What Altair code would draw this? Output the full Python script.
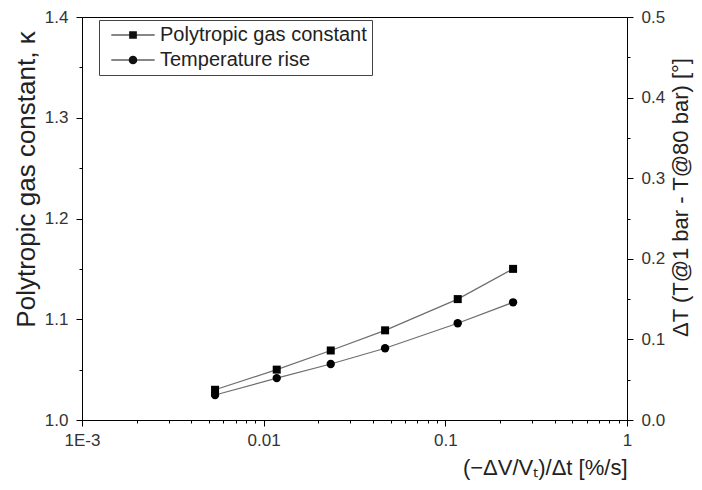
import altair as alt
import pandas as pd

# ---- data ----
rate = [0.0054, 0.0118, 0.0234, 0.0466, 0.117, 0.236]          # (-dV/Vt)/dt [%/s]
kappa = [1.030, 1.050, 1.069, 1.089, 1.120, 1.150]             # polytropic gas constant
delta_t = [0.031, 0.052, 0.0695, 0.089, 0.120, 0.146]          # temperature rise
series_names = ["Polytropic gas constant", "Temperature rise"]

x_tick_values = [m * 10.0 ** e for e in (-3, -2, -1) for m in range(1, 10)] + [1.0]
left_tick_values = [1.0, 1.05, 1.1, 1.15, 1.2, 1.25, 1.3, 1.35, 1.4]
right_tick_values = [0.0, 0.05, 0.1, 0.15, 0.2, 0.25, 0.3, 0.35, 0.4, 0.45, 0.5]

df = pd.DataFrame({"rate": rate, "kappa": kappa, "dT": delta_t})
legend_df = pd.DataFrame({"series": series_names,
                          "rate": [rate[0]] * 2,
                          "kappa": [kappa[0]] * 2})

FONT = "Liberation Sans"
LINE = "#6e6e6e"

x_major = "abs(log(datum.value)/LN10 - round(log(datum.value)/LN10)) < 0.001"
x_enc = alt.X(
    "rate:Q",
    scale=alt.Scale(type="log", domain=[0.001, 1], nice=False),
    axis=alt.Axis(
        values=x_tick_values,
        labelExpr=f"({x_major}) ? (datum.value < 0.005 ? '1E-3' : format(datum.value, '~g')) : ''",
        tickSize={"condition": {"test": x_major, "value": 6}, "value": 3},
        title="(\u2212\u0394V/V\u209c)/\u0394t [%/s]",
        titleX=545, titleY=54, titleAlign="right", titleBaseline="alphabetic",
        titleFontSize=22, titleFontWeight="normal",
        labelFontSize=17, labelPadding=6, labelFlush=False,
        grid=False,
    ),
)

y_major_l = "abs(datum.value*10 - round(datum.value*10)) < 0.001"
y_left = alt.Y(
    "kappa:Q",
    scale=alt.Scale(domain=[1.0, 1.4], nice=False, zero=False),
    axis=alt.Axis(
        values=left_tick_values,
        labelExpr=f"({y_major_l}) ? format(datum.value, '.1f') : ''",
        tickSize={"condition": {"test": y_major_l, "value": 6}, "value": 3},
        title="Polytropic gas constant, \u03ba",
        titleAngle=270, titleX=-69, titleY=162, titleAlign="center", titleBaseline="top",
        titleFontSize=26, titleFontWeight="normal",
        labelFontSize=17, labelPadding=8, labelFlush=False,
        grid=False,
    ),
)

y_right = alt.Y(
    "dT:Q",
    scale=alt.Scale(domain=[0.0, 0.5], nice=False, zero=False),
    axis=alt.Axis(
        orient="right",
        values=right_tick_values,
        labelExpr=f"({y_major_l}) ? format(datum.value, '.1f') : ''",
        tickSize={"condition": {"test": y_major_l, "value": 6}, "value": 3},
        title="\u0394T (T@1 bar - T@80 bar) [\u00b0]",
        titleAngle=270, titleX=43, titleY=180, titleAlign="center", titleBaseline="top",
        titleFontSize=22, titleFontWeight="normal",
        labelFontSize=17, labelPadding=8, labelFlush=False,
        grid=False,
    ),
)

# legend glyphs: a thin bar (the line) through the marker, all filled
sq_path = "M-3.1,-0.075H3.1V0.075H-3.1Z M-0.55,-0.55H0.55V0.55H-0.55Z"
ci_path = ("M-3.1,-0.075H3.1V0.075H-3.1Z "
           "M0.62,0A0.62,0.62,0,1,1,-0.62,0A0.62,0.62,0,1,1,0.62,0Z")

base = alt.Chart(df)
line_k = base.mark_line(color=LINE, strokeWidth=1.2).encode(x=x_enc, y=y_left)
pts_k = base.mark_point(shape="square", filled=True, color="black", size=64, opacity=1).encode(x=x_enc, y=y_left)
legend_carrier = alt.Chart(legend_df).mark_point(
    opacity=0, filled=True, color="#111"
).encode(
    x=x_enc, y=y_left,
    shape=alt.Shape(
        "series:N",
        scale=alt.Scale(domain=series_names, range=[sq_path, ci_path]),
        legend=alt.Legend(
            title=None, orient="none", legendX=17, legendY=3,
            strokeColor="#444", fillColor="white", padding=5,
            symbolSize=196, symbolFillColor="#111", symbolOpacity=1, symbolOffset=19,
            labelOffset=17, labelFontSize=20, labelFont=FONT, labelColor="#222",
            labelLimit=400, rowPadding=5,
        ),
    ),
)
left = alt.layer(line_k, pts_k, legend_carrier)

line_t = base.mark_line(color=LINE, strokeWidth=1.2).encode(x=x_enc, y=y_right)
pts_t = base.mark_point(shape="circle", filled=True, color="black", size=70, opacity=1).encode(x=x_enc, y=y_right)
right = alt.layer(line_t, pts_t)

chart = (
    alt.layer(left, right)
    .resolve_scale(y="independent")
    .properties(
        width=545, height=403,
        autosize=alt.AutoSizeParams(type="none"),
        padding={"left": 74, "top": 9, "right": 67, "bottom": 60},
        background="white",
    )
    .configure(font=FONT)
    .configure_view(stroke="black", strokeWidth=1)
    .configure_axis(
        domainColor="black", tickColor="black", labelColor="#333", titleColor="#222",
        labelFont=FONT, titleFont=FONT, domainWidth=1, tickWidth=1,
    )
)

chart.save("out.html", embed_options={"renderer": "svg", "actions": False})
